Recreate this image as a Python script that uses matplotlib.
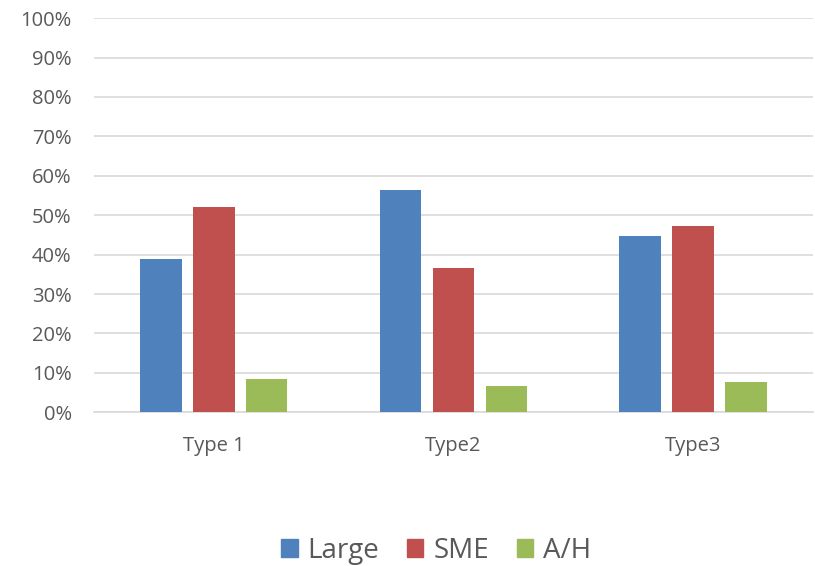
import numpy as np
import matplotlib.pyplot as plt
from matplotlib.patches import Patch
from matplotlib.ticker import PercentFormatter

categories = ["Type 1", "Type2", "Type3"]
large = [39.0, 56.5, 44.7]
sme = [52.0, 36.6, 47.3]
ah = [8.5, 6.7, 7.8]

series = [("Large", large, "#4f81bd"),
          ("SME", sme, "#c0504d"),
          ("A/H", ah, "#9bbb59")]

plt.rcParams['font.family'] = ['Open Sans', 'DejaVu Sans']
grey = "#595959"

fig = plt.figure(figsize=(8.15, 5.66), dpi=100)
ax = fig.add_axes([0.1153, 0.2716, 0.882, 0.6964])

x = np.arange(len(categories))
width = 0.173
step = 0.221
for i, (name, vals, col) in enumerate(series):
    ax.bar(x + (i - 1) * step, vals, width, color=col, zorder=3)

ax.set_xlim(-0.5, 2.5)
ax.set_ylim(0, 100)
ax.set_yticks(np.arange(0, 101, 10))
ax.yaxis.set_major_formatter(PercentFormatter(decimals=0))
ax.set_xticks(x)
ax.set_xticklabels(categories)
ax.grid(axis='y', color='#d9d9d9', linewidth=1.2, zorder=0)
for s in ['top', 'right', 'left']:
    ax.spines[s].set_visible(False)
ax.spines['bottom'].set_color('#d9d9d9')
ax.spines['bottom'].set_linewidth(1.2)
ax.tick_params(axis='y', length=0, pad=16, labelsize=14.5, labelcolor=grey)
ax.tick_params(axis='x', length=0, pad=17, labelsize=14.5, labelcolor=grey)

handles = [Patch(color=c, label=n) for n, _, c in series]
fig.legend(handles=handles, loc='center', bbox_to_anchor=(0.535, 0.027),
           ncol=3, frameon=False, fontsize=20, labelcolor=grey,
           handlelength=0.6, handleheight=0.6, handletextpad=0.35,
           columnspacing=1.0)

fig.savefig("out.png", dpi=100)
